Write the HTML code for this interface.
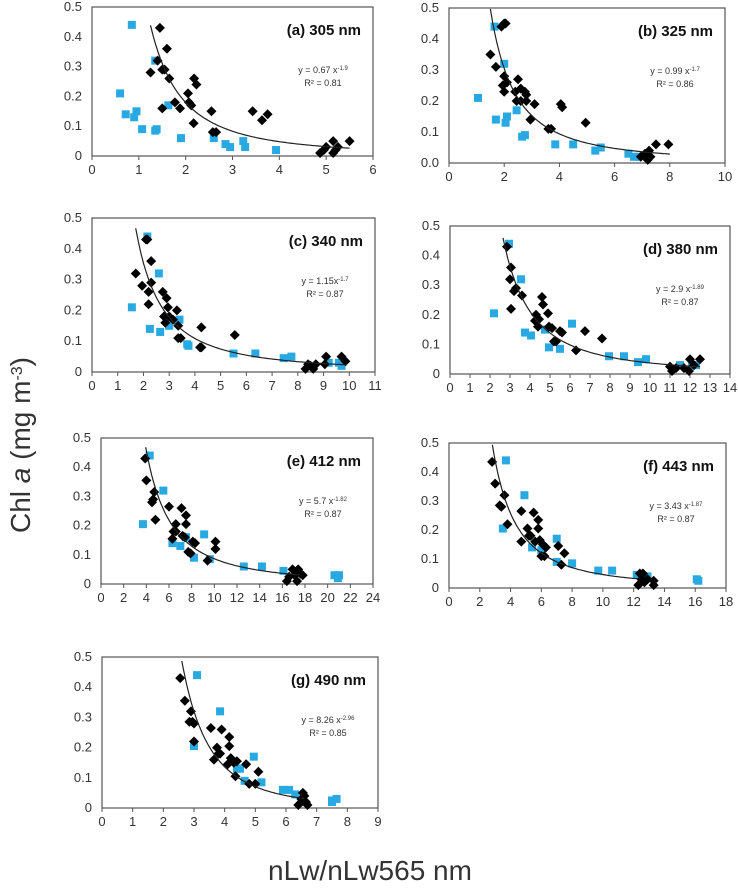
<!DOCTYPE html>
<html><head><meta charset="utf-8"><style>
html,body{margin:0;padding:0;background:#fff;}
svg{display:block;font-family:"Liberation Sans",sans-serif;}
</style></head><body>
<svg id="chart" width="738" height="890" viewBox="0 0 738 890">
<text transform="translate(30,445) rotate(-90)" text-anchor="middle" font-size="28" fill="#333">Chl <tspan font-style="italic">a</tspan> (mg m<tspan baseline-shift="super" font-size="16">-3</tspan>)</text>
<text x="370" y="880" text-anchor="middle" font-size="28" fill="#333">nLw/nLw565 nm</text>
</svg>
<script>
// ---- data ----
const titles=["(a) 305 nm","(b) 325 nm","(c) 340 nm","(d) 380 nm","(e) 412 nm","(f) 443 nm","(g) 490 nm"];
const fitA=[0.67,0.99,1.15,2.9,5.7,3.43,8.26];
const fitB=[-1.9,-1.7,-1.7,-1.89,-1.82,-1.87,-2.96];
const fitRange=[[1.25,5.5],[1.5,8],[1.7,9.9],[2.65,12.5],[3.6,17.5],[2.7,12.3],[2.5,6.6]];
const eqText=["y = 0.67 x","y = 0.99 x","y = 1.15x","y = 2.9 x","y = 5.7 x","y = 3.43 x","y = 8.26 x"];
const eqExp=["-1.9","-1.7","-1.7","-1.89","-1.82","-1.87","-2.96"];
const r2Text=["R² = 0.81","R² = 0.86","R² = 0.87","R² = 0.87","R² = 0.87","R² = 0.87","R² = 0.85"];
const xMax=[6,10,11,14,24,18,9];
const xStep=[1,2,1,1,2,2,1];
const yTicks=[0,0.1,0.2,0.3,0.4,0.5];
const blueA=[[0.6,0.21],[0.85,0.44],[0.72,0.14],[0.9,0.13],[0.95,0.15],[1.07,0.09],[1.35,0.085],[1.38,0.09],[1.35,0.32],[1.63,0.17],[1.9,0.06],[2.6,0.06],[2.85,0.04],[2.95,0.03],[3.23,0.05],[3.27,0.03],[3.93,0.02]];
const blackA=[[1.45,0.43],[1.6,0.36],[1.4,0.32],[1.25,0.28],[1.5,0.29],[1.55,0.29],[1.65,0.26],[1.5,0.16],[1.77,0.18],[1.88,0.16],[2.05,0.21],[2.07,0.18],[2.12,0.17],[2.18,0.26],[2.23,0.24],[2.17,0.11],[2.55,0.15],[2.58,0.08],[2.65,0.08],[3.43,0.15],[3.63,0.12],[3.75,0.14],[4.87,0.01],[4.95,0.02],[5.0,0.03],[5.15,0.05],[5.15,0.01],[5.2,0.02],[5.25,0.03],[5.5,0.05]];
const blueB=[[1.05,0.21],[1.65,0.44],[1.7,0.14],[2.0,0.32],[2.05,0.13],[2.1,0.15],[2.45,0.17],[2.65,0.085],[2.75,0.09],[3.85,0.06],[4.5,0.06],[5.3,0.04],[5.5,0.05],[6.5,0.03],[6.7,0.02],[6.85,0.02]];
const blackB=[[1.5,0.35],[1.7,0.31],[1.9,0.44],[2.0,0.45],[2.05,0.45],[2.0,0.28],[1.95,0.25],[2.0,0.23],[2.1,0.26],[2.4,0.23],[2.5,0.27],[2.6,0.24],[2.75,0.23],[2.8,0.22],[2.45,0.2],[2.6,0.2],[2.8,0.2],[3.1,0.19],[2.95,0.14],[3.6,0.11],[3.7,0.11],[4.05,0.19],[4.1,0.18],[4.95,0.13],[6.95,0.02],[7.1,0.03],[7.2,0.01],[7.25,0.04],[7.5,0.06],[7.95,0.06],[7.3,0.02]];
const blueC=[[1.55,0.21],[2.15,0.44],[2.25,0.14],[2.6,0.32],[2.65,0.13],[3.0,0.15],[3.4,0.17],[3.75,0.085],[3.7,0.09],[5.5,0.06],[6.35,0.06],[7.45,0.045],[7.75,0.05],[9.2,0.03],[9.6,0.03],[9.7,0.02]];
const blackC=[[1.7,0.32],[1.95,0.28],[2.1,0.43],[2.15,0.43],[2.2,0.26],[2.2,0.22],[2.3,0.36],[2.3,0.29],[2.75,0.26],[2.9,0.24],[2.95,0.21],[2.8,0.18],[2.85,0.16],[3.0,0.18],[3.15,0.17],[3.3,0.2],[3.35,0.15],[3.35,0.11],[3.45,0.11],[4.2,0.08],[4.25,0.145],[4.25,0.08],[5.55,0.12],[8.3,0.01],[8.4,0.025],[8.6,0.01],[8.7,0.025],[9.1,0.05],[9.05,0.025],[9.7,0.05],[9.85,0.035],[8.5,0.02]];
const blueD=[[2.2,0.205],[2.95,0.44],[3.55,0.32],[3.75,0.14],[4.05,0.13],[4.75,0.15],[4.95,0.09],[5.5,0.085],[6.1,0.17],[7.95,0.06],[8.7,0.06],[9.4,0.04],[9.8,0.05],[11.5,0.03],[12.1,0.03],[12.3,0.03]];
const blackD=[[2.85,0.43],[3.05,0.36],[3.0,0.32],[3.05,0.22],[3.2,0.28],[3.3,0.29],[3.6,0.265],[4.3,0.2],[4.25,0.18],[4.4,0.16],[4.45,0.185],[4.6,0.26],[4.65,0.235],[4.9,0.205],[4.95,0.16],[5.1,0.155],[5.2,0.11],[5.3,0.11],[5.5,0.145],[5.6,0.14],[6.3,0.08],[6.75,0.145],[7.6,0.12],[11.0,0.025],[11.1,0.01],[11.3,0.02],[11.7,0.02],[11.95,0.01],[12.0,0.05],[12.2,0.03],[12.5,0.05]];
const blueE=[[3.7,0.205],[4.3,0.44],[5.5,0.32],[6.3,0.14],[7.0,0.13],[7.5,0.16],[8.2,0.09],[9.1,0.17],[9.6,0.085],[12.6,0.06],[14.2,0.06],[16.1,0.045],[20.6,0.03],[21.0,0.03],[20.9,0.02]];
const blackE=[[3.9,0.43],[4.0,0.355],[4.5,0.28],[4.6,0.29],[4.7,0.315],[4.8,0.22],[6.0,0.265],[6.3,0.155],[6.4,0.18],[6.6,0.205],[6.6,0.18],[7.1,0.26],[7.2,0.165],[7.4,0.16],[7.5,0.235],[7.5,0.205],[7.7,0.11],[7.9,0.105],[8.1,0.145],[8.3,0.14],[9.4,0.08],[10.1,0.145],[10.1,0.12],[16.4,0.01],[16.6,0.025],[16.9,0.05],[17.1,0.03],[17.3,0.01],[17.4,0.05],[17.6,0.035],[17.8,0.03]];
const blueF=[[3.5,0.205],[3.7,0.44],[4.9,0.32],[5.4,0.14],[6.0,0.13],[7.0,0.17],[7.0,0.09],[8.0,0.085],[9.7,0.06],[10.6,0.06],[12.2,0.045],[12.9,0.04],[16.1,0.03],[16.2,0.025]];
const blackF=[[2.8,0.435],[3.0,0.36],[3.3,0.285],[3.4,0.28],[3.6,0.32],[3.8,0.22],[4.7,0.265],[4.7,0.16],[5.1,0.205],[5.2,0.18],[5.3,0.18],[5.5,0.26],[5.6,0.16],[5.8,0.235],[5.8,0.205],[5.9,0.165],[6.0,0.11],[6.1,0.15],[6.2,0.11],[6.3,0.14],[7.1,0.145],[7.3,0.08],[7.5,0.12],[12.3,0.01],[12.4,0.05],[12.6,0.05],[12.7,0.02],[12.9,0.03],[13.3,0.01],[13.3,0.025],[12.5,0.03]];
const blueG=[[3.0,0.205],[3.1,0.44],[3.85,0.32],[4.4,0.13],[4.5,0.13],[4.65,0.09],[4.95,0.17],[5.2,0.085],[5.9,0.06],[6.1,0.06],[6.3,0.045],[7.5,0.025],[7.65,0.03],[7.5,0.02]];
const blackG=[[2.55,0.43],[2.7,0.355],[2.85,0.285],[2.9,0.32],[2.95,0.285],[3.0,0.22],[3.0,0.28],[3.55,0.265],[3.65,0.16],[3.75,0.2],[3.8,0.18],[3.85,0.18],[3.9,0.26],[4.1,0.145],[4.15,0.235],[4.15,0.205],[4.2,0.165],[4.3,0.15],[4.35,0.105],[4.4,0.155],[4.7,0.145],[4.8,0.08],[5.0,0.08],[5.1,0.12],[6.4,0.01],[6.5,0.03],[6.55,0.05],[6.6,0.04],[6.65,0.02],[6.7,0.01],[6.5,0.02]];
const blueSets=[blueA,blueB,blueC,blueD,blueE,blueF,blueG];
const blackSets=[blackA,blackB,blackC,blackD,blackE,blackF,blackG];
// ---- layout (pixel geometry) ----
const geom=[
 {x0:92,x1:373,y0:156,y1:7},
 {x0:449,x1:725,y0:163,y1:8},
 {x0:92,x1:375,y0:372,y1:218},
 {x0:450,x1:730,y0:374,y1:226},
 {x0:101,x1:373,y0:584,y1:438},
 {x0:449,x1:726,y0:588,y1:443},
 {x0:102,x1:378,y0:808,y1:657}
];
const NS="http://www.w3.org/2000/svg";
const svg=document.getElementById('chart');
function mk(tag,attrs,parent){const e=document.createElementNS(NS,tag);for(const k in attrs)e.setAttribute(k,attrs[k]);(parent||svg).appendChild(e);return e;}
const letters=['a','b','c','d','e','f','g'];
geom.forEach((g,i)=>{
  const grp=mk('g',{});
  
  
  const sx=v=>g.x0+(v/xMax[i])*(g.x1-g.x0);
  const sy=v=>g.y0-(v/0.5)*(g.y0-g.y1);
  const fr=mk('rect',{x:g.x0,y:g.y1,width:g.x1-g.x0,height:g.y0-g.y1,fill:'none',stroke:'#555','stroke-width':1.2},grp);
  
  
  for(let v=0;v<=xMax[i]+1e-9;v+=xStep[i]){
    const X=sx(v);
    const tk=mk('line',{x1:X,x2:X,y1:g.y0,y2:g.y0+4,stroke:'#555','stroke-width':1},grp);
    
    
    const t=mk('text',{x:X,y:g.y0+18,'text-anchor':'middle','font-size':13,fill:'#333'},grp);
    t.textContent=String(v);
    
    
  }
  yTicks.forEach(v=>{
    const t=mk('text',{x:g.x0-10,y:sy(v)+4,'text-anchor':'end','font-size':13,fill:'#333'},grp);
    t.textContent=(i===1)?v.toFixed(1):(v===0?'0':v.toFixed(1));
    
    
  });
  blueSets[i].forEach(p=>{
    const r=mk('rect',{x:sx(p[0])-4,y:sy(p[1])-4,width:8,height:8,fill:'#29a9e1'},grp);
    
    
  });
  blackSets[i].forEach(p=>{
    const X=sx(p[0]),Y=sy(p[1]);
    const d=mk('polygon',{points:`${X},${Y-5} ${X+5},${Y} ${X},${Y+5} ${X-5},${Y}`,fill:'#000'},grp);
    
    
  });
  let pts=[];const [a0,a1]=fitRange[i];
  for(let k=0;k<=80;k++){const x=a0+(a1-a0)*k/80;let y=fitA[i]*Math.pow(x,fitB[i]);if(y>0.5)continue;pts.push(sx(x).toFixed(1)+','+sy(y).toFixed(1));}
  const pl=mk('polyline',{points:pts.join(' '),fill:'none',stroke:'#222','stroke-width':1.2},grp);
  
  
  const ti=mk('text',{x:g.x1-12,y:g.y1+28,'text-anchor':'end','font-size':15,'font-weight':'bold',fill:'#111'},grp);
  ti.textContent=titles[i];
  
  
  const eq=mk('text',{x:g.x1-50,y:g.y1+66,'text-anchor':'middle','font-size':9,fill:'#333'},grp);
  eq.textContent=eqText[i];
  const sup=mk('tspan',{'baseline-shift':'super','font-size':6},eq);
  sup.textContent=eqExp[i];
  
  
  const r2=mk('text',{x:g.x1-50,y:g.y1+79,'text-anchor':'middle','font-size':9,fill:'#333'},grp);
  r2.textContent=r2Text[i];
  
  
});
</script>
</body></html>
